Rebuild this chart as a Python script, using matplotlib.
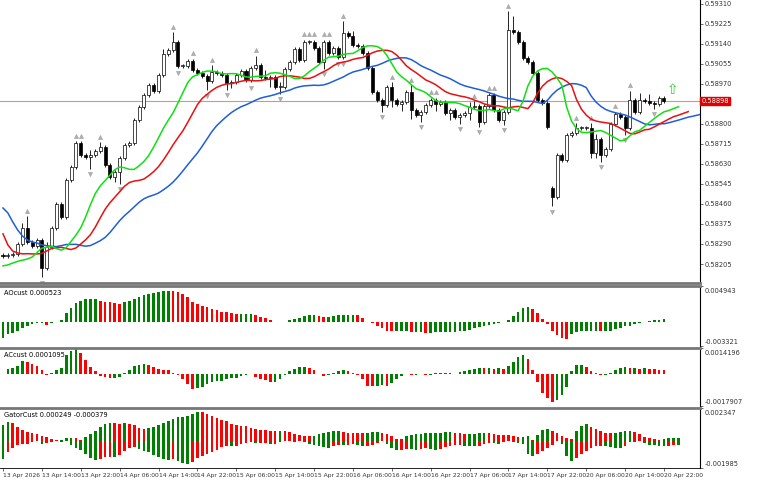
import matplotlib
matplotlib.use("Agg")
import matplotlib.pyplot as plt
import numpy as np

closes = [0.58239,0.58243,0.58248,0.58290,0.58358,0.58299,0.58282,0.58307,0.58188,0.58277,
0.58358,0.58460,0.58405,0.58562,0.58617,0.58719,0.58668,0.58660,0.58668,0.58685,
0.58702,0.58626,0.58575,0.58596,0.58656,0.58711,0.58719,0.58817,0.58872,0.58923,
0.58966,0.58940,0.59008,0.59098,0.59115,0.59149,0.59047,0.59047,0.59068,0.59030,
0.59017,0.59004,0.58983,0.59021,0.59017,0.59008,0.58974,0.58979,0.59008,0.59025,
0.58987,0.59038,0.59051,0.59000,0.58996,0.59000,0.58957,0.58957,0.59034,0.59064,
0.59119,0.59072,0.59149,0.59149,0.59123,0.59064,0.59149,0.59102,0.59123,0.59085,
0.59187,0.59174,0.59136,0.59132,0.59102,0.59038,0.58936,0.58902,0.58881,0.58957,
0.58902,0.58885,0.58894,0.58936,0.58860,0.58838,0.58851,0.58881,0.58902,0.58885,
0.58894,0.58847,0.58860,0.58830,0.58838,0.58847,0.58872,0.58877,0.58809,0.58877,
0.58923,0.58860,0.58817,0.58851,0.59200,0.59191,0.59149,0.59081,0.59064,0.59017,
0.58902,0.58889,0.58787,0.58490,0.58668,0.58647,0.58753,0.58762,0.58783,0.58783,
0.58783,0.58677,0.58736,0.58668,0.58694,0.58800,0.58843,0.58830,0.58783,0.58902,
0.58851,0.58902,0.58898,0.58889,0.58885,0.58911,0.58898]
first_open = 0.58243
gap_opens = {113: 0.58528}
# wick sizes in pips (0.0001)
upper_wick = [1,1,1,1,2,5,1,1,1,2, 1,1,1,1,1,1,1,1,2,1, 2,1,1,1,1,1,1,1,1,1,
1,1,1,2,1,4,1,1,1,1, 1,1,1,3,1,1,1,1,1,1, 1,1,4,1,3,1,1,2,1,1, 1,1,1,1,1,1,1,1,1,1,
5,1,2,1,1,1,1,1,1,1, 2,1,1,1,3,1,1,1,1,1, 1,1,1,1,1,1,2,2,1,1, 1,1,1,1,8,6,1,1,1,1,
1,1,1,1,1,1,1,1,2,1, 1,2,2,1,1,1,1,1,1,4, 1,3,1,3,1,1,1]
lower_wick = [1,1,1,1,1,1,1,1,4,1, 1,1,1,1,1,1,1,1,5,1, 1,1,1,2,5,1,1,1,1,1,
1,1,1,1,1,1,1,1,1,1, 1,1,4,1,1,1,3,2,1,1, 1,1,1,1,1,4,1,3,1,1, 1,1,1,1,1,1,3,1,1,1,
1,1,1,1,1,1,1,1,3,1, 3,1,3,1,4,1,3,1,1,3, 1,1,3,1,3,1,3,1,2,1, 1,1,1,2,1,1,1,1,1,1,
1,1,1,4,1,1,1,1,1,1, 1,2,2,3,1,1,1,1,3,1, 1,1,1,1,2,1,1]

# Alligator lines visible before the first computed point
jaw_head = [0.58443,0.58422,0.58384,0.58350,0.58324,0.58307,0.58299,0.58294]
teeth_head = [0.58333,0.58286,0.58260,0.58252,0.58248]
lips_head = [0.58197,0.58201,0.58209]
jaw_seed, teeth_seed, lips_seed = 0.5829, 0.5825, 0.5821

# AO values (units of 0.0001)
ao = [-22,-17,-15,-12,-8,-5,-3,-2,-2,-4, -2,0,2,12,19,26,29,31,31,31,
29,28,27,26,25,27,29,32,34,37, 39,40,41,42,43,42,41,38,34,28,
25,22,20,18,16,14,13,12,11,11, 11,11,9,7,5,2,0,-0.5,0.5,2,
4,6,8,9,9,8,7,7,8,9, 10,10,10,9,6,0.5,-2,-5,-8,-12,
-13,-13,-13,-13,-14,-14,-14,-15,-15,-14, -14,-14,-14,-14,-13,-12,-11,-9,-7,-6,
-4,-3,-1,0,3,8,14,19,21,18, 12,4,-3,-12,-18,-22,-23,-17,-14,-13,
-12,-12,-12,-13,-13,-12,-10,-8,-6,-5, -3,-2,0,1,2,3,4]

time_labels = ["13 Apr 2026","13 Apr 14:00","13 Apr 22:00","14 Apr 06:00","14 Apr 14:00",
"14 Apr 22:00","15 Apr 06:00","15 Apr 14:00","15 Apr 22:00","16 Apr 06:00","16 Apr 14:00",
"16 Apr 22:00","17 Apr 06:00","17 Apr 14:00","17 Apr 22:00","20 Apr 06:00","20 Apr 14:00",
"20 Apr 22:00"]
price_ticks = [0.59310,0.59225,0.59140,0.59055,0.58970,0.58800,0.58715,0.58630,
0.58545,0.58460,0.58375,0.58290,0.58205]
current_price = 0.58898

n = len(closes)
closes_a = np.array(closes)
opens = np.concatenate([[first_open], closes_a[:-1]])
for k, v in gap_opens.items():
    opens[k] = v
highs = np.maximum(opens, closes_a) + np.array(upper_wick[:n]) * 1e-4
lows = np.minimum(opens, closes_a) - np.array(lower_wick[:n]) * 1e-4
med = (highs + lows) / 2

def smma(src, period, seed):
    out = []
    prev = seed
    for v in src:
        prev = (prev * (period - 1) + v) / period
        out.append(prev)
    return np.array(out)

jaw = np.concatenate([jaw_head, smma(med, 13, jaw_seed)])      # shift 8
teeth = np.concatenate([teeth_head, smma(med, 8, teeth_seed)])  # shift 5
lips = np.concatenate([lips_head, smma(med, 5, lips_seed)])     # shift 3

W, H = 768, 480
fig = plt.figure(figsize=(W/100, H/100), dpi=100)
fig.patch.set_facecolor("white")
XR = 700
bar_px = 4.86
x0 = -3/bar_px
x1 = (XR-3)/bar_px
FS = 4.8

def mkax(top, bottom):
    ax = fig.add_axes([0, 1-bottom/H, XR/W, (bottom-top)/H])
    ax.set_xlim(x0, x1)
    ax.spines["left"].set_visible(False)
    ax.spines["right"].set_color("black"); ax.spines["right"].set_linewidth(0.8)
    ax.set_xticks([])
    ax.yaxis.tick_right()
    ax.tick_params(axis="y", labelsize=FS, length=2, width=0.5, pad=1, colors="#333333")
    return ax

def edge_labels(a, top, bot):
    a.set_yticks([top, bot])
    a.set_yticklabels([f"{top:.7g}" if False else None, None])

ax = mkax(0, 283)
ax.spines["top"].set_visible(False)
ax.spines["bottom"].set_color("#777777"); ax.spines["bottom"].set_linewidth(2)
ax.set_ylim(0.59327-0.0000425*283, 0.59327)
ax.set_yticks(price_ticks)
ax.set_yticklabels([f"{t:.5f}" for t in price_ticks])
idx = np.arange(n)
ax.vlines(idx, lows, highs, color="black", lw=0.6, zorder=2)
bull = closes_a >= opens
bodyh = np.maximum(np.abs(closes_a - opens), 0.000025)
ax.bar(idx, bodyh, bottom=np.minimum(opens, closes_a), width=0.62,
       color=np.where(bull, "white", "black"), edgecolor="black", lw=0.5, zorder=3)
ax.plot(np.arange(len(jaw)), jaw, color="#1f5fd6", lw=1.1, zorder=4)
ax.plot(np.arange(len(teeth)), teeth, color="#e81010", lw=1.1, zorder=4)
ax.plot(np.arange(len(lips)), lips, color="#10e010", lw=1.1, zorder=4)
ax.axhline(current_price, color="#e07070", lw=0.8, alpha=0.8, zorder=1)
ax.text(1.002, current_price, f"{current_price:.5f}", transform=ax.get_yaxis_transform(),
        fontsize=FS, color="white", va="center", ha="left",
        bbox=dict(boxstyle="square,pad=0.15", fc="#e00000", ec="#e00000"), clip_on=False, zorder=10)
for i in range(2, n-2):
    if highs[i] == max(highs[i-2:i+3]):
        ax.plot(i, highs[i]+0.00022, marker="^", ms=3, color="#b0b0b0", mec="#909090", mew=0.3)
    if lows[i] == min(lows[i-2:i+3]):
        ax.plot(i, lows[i]-0.00022, marker="v", ms=3, color="#b0b0b0", mec="#909090", mew=0.3)
ax.text(n+0.8, 0.58943, "⇧", color="#30d030", fontsize=10, ha="center", va="center")

def sub_style(a, top, bot, ttxt, btxt):
    a.spines["top"].set_color("#777777"); a.spines["top"].set_linewidth(2)
    a.spines["bottom"].set_visible(False)
    a.set_ylim(bot, top)
    a.set_yticks([top, bot]); a.set_yticklabels(["", ""])
    tr = a.get_yaxis_transform()
    a.text(1.006, 0.965, ttxt, transform=a.transAxes, fontsize=FS, va="top", ha="left", color="#333333")
    a.text(1.006, 0.02, btxt, transform=a.transAxes, fontsize=FS, va="bottom", ha="left", color="#333333")

# AO
aoa = np.array(ao) * 1e-4
ax2 = mkax(286, 346); sub_style(ax2, 0.004943, -0.003321, "0.004943", "-0.003321")
col = ["#008000" if i == 0 or aoa[i] >= aoa[i-1] else "#ff0000" for i in range(len(aoa))]
ax2.bar(np.arange(len(aoa)), aoa, width=0.55, color=col)
ax2.text(0.005, 0.93, "AOcust 0.000523", transform=ax2.transAxes, fontsize=FS, va="top")

# AC
ac = np.array([aoa[i] - aoa[max(0, i-4):i+1].mean() for i in range(len(aoa))])
ax3 = mkax(348, 406); sub_style(ax3, 0.0014196, -0.0017907, "0.0014196", "-0.0017907")
col = ["#008000" if i == 0 or ac[i] >= ac[i-1] else "#ff0000" for i in range(len(ac))]
ax3.bar(np.arange(len(ac)), ac, width=0.55, color=col)
ax3.text(0.005, 0.93, "ACcust 0.0001095", transform=ax3.transAxes, fontsize=FS, va="top")

# Gator
m = min(len(jaw), len(teeth), len(lips))
up = np.abs(jaw[:m] - teeth[:m])
dn = -np.abs(teeth[:m] - lips[:m])
ax4 = mkax(408, 468); sub_style(ax4, 0.002347, -0.001985, "0.002347", "-0.001985")
ax4.spines["bottom"].set_visible(True); ax4.spines["bottom"].set_color("black"); ax4.spines["bottom"].set_linewidth(0.6)
cu = ["#008000" if i == 0 or up[i] >= up[i-1] else "#ff0000" for i in range(m)]
cd = ["#008000" if i == 0 or abs(dn[i]) >= abs(dn[i-1]) else "#ff0000" for i in range(m)]
ax4.bar(np.arange(m), up, width=0.55, color=cu)
ax4.bar(np.arange(m), dn, width=0.55, color=cd)
ax4.text(0.005, 0.93, "GatorCust 0.000249 -0.000379", transform=ax4.transAxes, fontsize=FS, va="top")
tpos = np.arange(len(time_labels)) * 8
ax4.set_xticks(tpos)
ax4.set_xticklabels(time_labels, fontsize=4.3, ha="left")
ax4.tick_params(axis="x", length=2, width=0.5, pad=1.5, colors="#333333")

fig.savefig("out.png", dpi=100)
